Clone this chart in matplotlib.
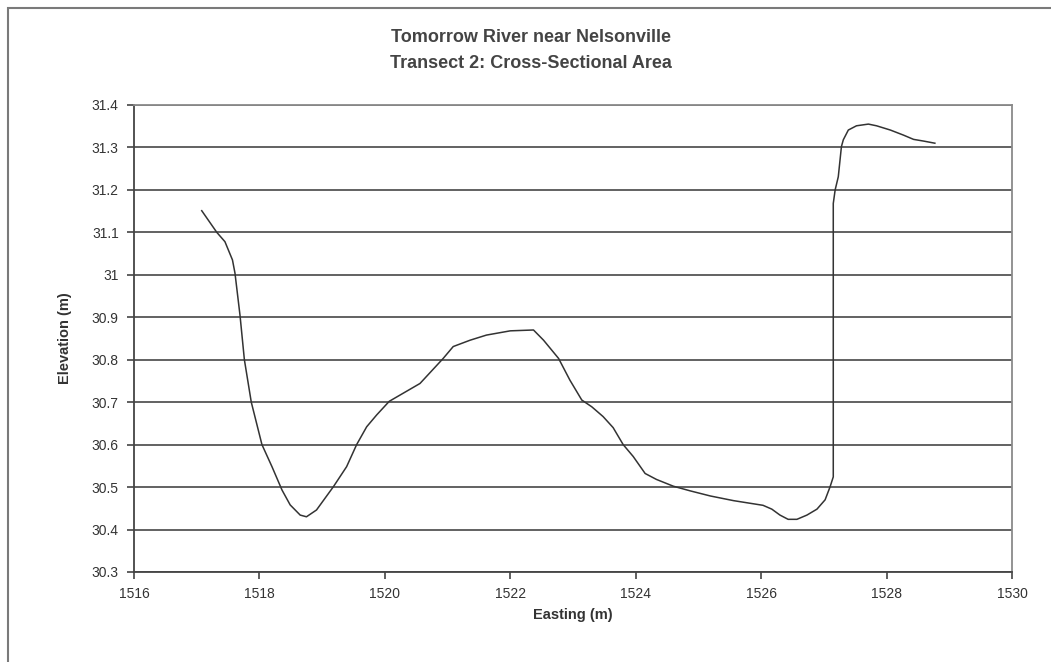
import numpy as np
import matplotlib.pyplot as plt
from matplotlib.patches import Rectangle

plt.rcParams["font.family"] = ["Liberation Sans", "DejaVu Sans"]

# cross-section survey points (easting, elevation)
easting = [1517.08, 1517.32, 1517.45, 1517.57, 1517.61, 1517.69, 1517.76, 1517.87,
           1518.04, 1518.20, 1518.36, 1518.49, 1518.65, 1518.75, 1518.91, 1519.18,
           1519.39, 1519.55, 1519.71, 1519.87, 1520.07, 1520.56, 1520.93, 1521.09,
           1521.36, 1521.62, 1522.00, 1522.37, 1522.53, 1522.77, 1522.95, 1523.14,
           1523.30, 1523.48, 1523.64, 1523.80, 1523.96, 1524.15, 1524.33, 1524.60,
           1524.87, 1525.19, 1525.56, 1526.03, 1526.17, 1526.30, 1526.43, 1526.57,
           1526.73, 1526.89, 1527.02, 1527.10, 1527.15, 1527.15, 1527.18, 1527.23,
           1527.28, 1527.31, 1527.39, 1527.52, 1527.71, 1527.84, 1528.06, 1528.27,
           1528.43, 1528.59, 1528.77]
elevation = [31.151, 31.100, 31.078, 31.035, 31.004, 30.905, 30.800, 30.700,
             30.600, 30.548, 30.493, 30.458, 30.434, 30.430, 30.446, 30.501,
             30.548, 30.600, 30.642, 30.670, 30.702, 30.744, 30.803, 30.831,
             30.846, 30.858, 30.868, 30.870, 30.846, 30.803, 30.752, 30.705,
             30.689, 30.666, 30.640, 30.600, 30.572, 30.532, 30.518, 30.502,
             30.491, 30.479, 30.468, 30.457, 30.448, 30.434, 30.424, 30.424,
             30.434, 30.448, 30.470, 30.501, 30.524, 31.168, 31.200, 31.231,
             31.302, 31.318, 31.341, 31.351, 31.355, 31.351, 31.341, 31.329,
             31.319, 31.315, 31.310]

x_ticks = [1516, 1518, 1520, 1522, 1524, 1526, 1528, 1530]
y_ticks = [30.3, 30.4, 30.5, 30.6, 30.7, 30.8, 30.9, 31.0, 31.1, 31.2, 31.3, 31.4]
y_labels = ["30.3", "30.4", "30.5", "30.6", "30.7", "30.8", "30.9", "31",
            "31.1", "31.2", "31.3", "31.4"]

fig = plt.figure(figsize=(10.51, 6.62), dpi=100)
ax = fig.add_axes([0.1275, 0.136, 0.8354, 0.7054])

# outer chart frame (right/bottom edges fall off the picture)
fig.patches.append(Rectangle((8 / 1051, -0.5), 2, 1 - 8 / 662 + 0.5,
                             transform=fig.transFigure, fill=False,
                             edgecolor="#7a7a7a", lw=1.5))

ax.plot(easting, elevation, color="#333333", lw=1.1)

ax.set_xlim(1516, 1530)
ax.set_ylim(30.3, 31.4)
ax.set_xticks(x_ticks)
ax.set_yticks(y_ticks)
ax.set_yticklabels(y_labels)
ax.grid(axis="y", color="#555555", lw=1.3)
ax.set_axisbelow(True)

for s in ["left", "bottom"]:
    ax.spines[s].set_color("#444444")
    ax.spines[s].set_linewidth(1.3)
for s in ["right", "top"]:
    ax.spines[s].set_color("#8a8a8a")
    ax.spines[s].set_linewidth(1.3)

ax.tick_params(direction="out", length=5, width=1.2, color="#444444",
               labelsize=10, labelcolor="#333333", pad=6)

ax.set_xlabel("Easting (m)", fontsize=10.5, fontweight="bold", color="#333333", labelpad=5)
ax.set_ylabel("Elevation (m)", fontsize=10.5, fontweight="bold", color="#333333", labelpad=14)

fig.text(0.505, 0.944, "Tomorrow River near Nelsonville", ha="center", va="center",
         fontsize=13, fontweight="bold", color="#444444")
fig.text(0.505, 0.904, "Transect 2: Cross-Sectional Area", ha="center", va="center",
         fontsize=13, fontweight="bold", color="#444444")

fig.savefig("out.png", dpi=100)
